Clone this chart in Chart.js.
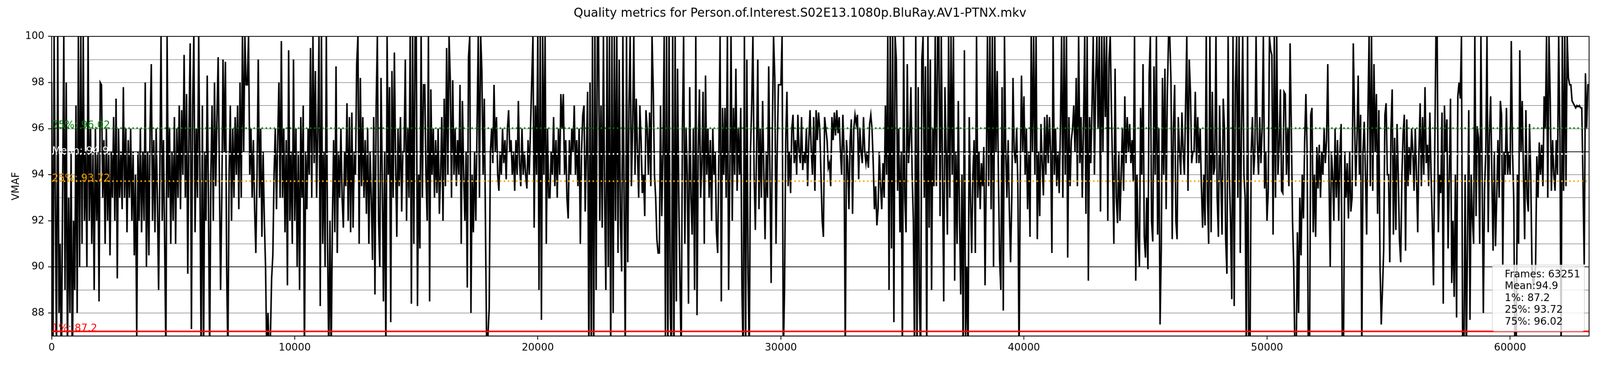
<!DOCTYPE html>
<html>
<head>
<meta charset="utf-8">
<title>Quality metrics</title>
<script src="https://cdn.jsdelivr.net/npm/chart.js@4.4.1/dist/chart.umd.min.js"></script>
<style>
  html, body { margin: 0; padding: 0; background: #fff; overflow: hidden; }
  canvas { display: block; }
</style>
</head>
<body>
<canvas id="vmafChart" width="4400" height="1000" style="width:100vw;height:22.7273vw"></canvas>
<script>
const chartTitle = "Quality metrics for Person.of.Interest.S02E13.1080p.BluRay.AV1-PTNX.mkv";
const yLabel = "VMAF";
const frameCount = 63251;
const frameStep = 50; // one value every 50 frames

// VMAF per frame, in blocks of 10000 frames
const seg0 = [
  98, 85, 100, 93, 86, 100, 88, 91, 85, 93,
  100, 89, 98, 86, 93, 88, 95, 85, 92, 89,
  97, 88, 100, 90, 100, 91, 100, 92, 95, 90,
  100, 92, 96, 91, 95, 89, 96, 92, 95, 88.5,
  98, 97.9, 93, 95.5, 91, 96, 92, 95, 90.5, 95,
  93, 96.5, 92, 97.3, 89.5, 96, 93, 95, 92.5, 97.8,
  93, 96, 91.5, 95.5, 93, 96, 92, 95, 90.5, 94,
  87, 95, 92, 96, 91.5, 95, 92, 98, 90, 95,
  90.5, 96, 98.8, 92, 95.5, 91.5, 96, 93, 89, 94,
  100, 92, 95.5, 91, 86, 100, 93, 96, 91, 95,
  92, 96.5, 91, 96, 93, 97, 92.5, 96.8, 94, 99.2,
  93, 97.5, 89.7, 96, 99.7, 87.3, 97, 100, 91.5, 96,
  93, 100, 94, 86, 97, 86, 95, 92, 98.3, 93,
  86, 94, 97, 92, 98, 93.5, 96.5, 99.1, 94, 89,
  93, 99, 95, 98.9, 90, 86, 94, 97, 92, 96,
  93, 96.5, 94, 97, 92.5, 98, 93, 100, 95, 100,
  97.9, 97.9, 100, 94, 96, 93, 95.5, 92.5, 90.6, 94,
  99, 93, 96, 91.3, 95, 92, 90, 86, 88, 86,
  87, 89.5, 90.5, 94, 96, 92.5, 95.5, 98, 93, 99.8,
  93, 96, 91.5, 95.5, 89.2, 99.4, 92, 95, 91, 99
];
const seg1 = [
  92, 96, 90, 95, 89, 96.5, 93, 97, 86, 95,
  92.5, 96, 94, 99.5, 93, 100, 94.5, 98.5, 93, 96,
  100, 88.3, 100, 91, 95, 90, 100, 91, 86, 92,
  86, 92, 95.5, 91.5, 98.7, 90.6, 95, 93, 96, 93,
  91.7, 95, 93.5, 97.1, 92, 96.5, 91.5, 96.7, 91.7, 95,
  94, 98.8, 100, 91, 98.2, 93.5, 96.5, 93, 95.5, 92.3,
  96, 91, 95, 93, 90.3, 96.5, 88.8, 97, 100, 92,
  90, 98.2, 94, 88.5, 95, 86, 100, 94, 97.8, 87.6,
  98.5, 93, 99.3, 94.5, 91.3, 96, 93.5, 96.5, 92.4, 95,
  95, 99, 92, 96, 93, 100, 88.4, 100, 91, 100,
  100, 88.3, 94, 90.8, 100, 93, 97.9, 97.9, 94, 92,
  100, 88.5, 97.7, 94, 96, 93, 95.5, 93.2, 96, 92.3,
  94, 96.5, 92, 97.3, 93.5, 99.5, 94, 100, 98.1, 93,
  98.1, 94, 96, 93.5, 95.5, 94, 97.9, 91, 97.2, 94,
  92, 95, 89.1, 99.1, 100, 88, 94, 91.5, 95, 92,
  96, 100, 93, 100, 98.5, 94, 97.3, 91.5, 86, 87,
  88.2, 95, 96, 94.5, 97.9, 95, 96.5, 94, 93.3, 95,
  94, 96, 94.5, 95.5, 93.8, 96, 96.8, 95, 95.5, 94,
  95, 93.3, 95.5, 94, 97.2, 94.5, 93.5, 96, 94, 95,
  94, 93.4, 95.5, 94, 96, 98, 100, 91.7, 97, 94
];
const seg2 = [
  100, 89, 100, 87.7, 100, 94, 100, 91, 96, 93,
  93, 95, 94, 96.5, 93.5, 95.5, 93, 96, 94, 97.5,
  96, 97.5, 94, 95.5, 93, 92.1, 95.5, 94, 96, 95,
  97, 94, 95.5, 93.5, 96, 91, 95, 96.6, 97, 92.4,
  95, 97.6, 86, 98, 86, 100, 86, 100, 89, 100,
  100, 92, 97, 91.7, 100, 93, 89, 100, 90, 100,
  86, 100, 88, 100, 92, 100, 90.6, 99, 92, 89.8,
  100, 93, 86, 100, 90.2, 97, 100, 93.5, 96, 100,
  94, 97.3, 95, 93, 97, 95.5, 93.2, 94, 92.2, 96.8,
  96, 94, 96.7, 93.5, 100, 97.7, 94, 93, 91.2, 90.6,
  90.6, 97, 92.2, 95, 100, 87, 100, 86, 100, 88,
  86, 100, 86, 100, 88.5, 98.6, 93, 89.3, 86, 96,
  100, 91, 96, 94, 88.4, 97.8, 93, 91.4, 96, 89,
  100, 87.9, 95, 97.7, 93, 94.5, 97.6, 91, 98.3, 94,
  96, 93, 95.5, 92, 96, 94, 95, 91.5, 90.6, 95,
  100, 88.5, 96.9, 94, 96.9, 93, 100, 89, 94, 100,
  92, 96.9, 94, 98.6, 93.3, 96, 94, 96.9, 89, 86,
  100, 86, 99, 89.7, 86, 95, 97, 100, 94, 91.6,
  95, 99, 92.5, 96, 93, 97.2, 94, 91.2, 95, 93,
  98.7, 94, 89.3, 96, 100, 98.2, 91, 95, 97.9, 97.9
];
const seg3 = [
  97.9, 100, 86, 89, 95.5, 97.6, 93.5, 95, 93.2, 96,
  96.6, 94.5, 95.5, 94, 96.6, 95, 94.5, 96.5, 94.2, 95,
  94.5, 96, 93.5, 95.5, 96.8, 95, 94, 96.5, 93.3, 96.8,
  95.5, 96.7, 96, 94, 92, 91.3, 96.5, 96, 95.5, 94.3,
  94.5, 93.5, 96.5, 95.5, 96.7, 95.7, 96.8, 95.8, 96.5, 95,
  94, 96.6, 95, 86, 95.5, 94.5, 92.5, 95.5, 96.4, 92.3,
  96, 96.6, 96.2, 96.6, 93.8, 96, 95, 94.5, 96.5, 95,
  94.5, 95, 94.3, 96.2, 96.6, 96, 94.5, 92.5, 93.5, 91.8,
  92.5, 95, 93.5, 92.5, 94.5, 93, 97, 94, 100, 89,
  100, 90.8, 100, 87.6, 100, 99, 93.3, 96, 91.5, 95,
  86, 100, 93, 91.5, 98.8, 94.5, 95.5, 97.8, 94, 92,
  86, 100, 86, 97.8, 88.6, 86, 99, 100, 93, 98.7,
  86, 100, 91.7, 99, 89, 96, 93.5, 100, 93.5, 100,
  100, 92.2, 100, 94, 88.5, 97.8, 95, 91.4, 100, 93,
  100, 94, 100, 89.4, 95, 91, 97.2, 92, 88.8, 94,
  86, 99.4, 87, 90, 86, 96.5, 93, 90.6, 94, 95.5,
  90.6, 100, 93, 95, 92.5, 94.5, 93.5, 95.2, 89.2, 94,
  100, 93.5, 100, 92.5, 100, 90, 100, 95, 98.5, 94,
  90.3, 89, 97.8, 88.1, 100, 95, 93, 95.5, 92.5, 90.2,
  93, 98.2, 95, 94.5, 96, 93.5, 86, 94, 98.3, 95
];
const seg4 = [
  97.4, 94, 96, 92.5, 95, 91.3, 100, 95, 100, 94,
  100, 91.2, 95, 92.2, 96.2, 94.5, 93.1, 96.5, 94, 96.6,
  94.5, 96.5, 95, 90.6, 100, 94, 96, 93.5, 95, 93.2,
  96, 100, 93, 100, 94, 100, 90.4, 96.5, 93.5, 95.5,
  96, 97, 95, 98.2, 93.5, 100, 94.5, 96.5, 93, 96,
  100, 92.3, 100, 89.4, 96.5, 94.5, 97, 100, 94, 98,
  100, 96, 100, 92.4, 100, 95, 100, 96.5, 100, 92,
  99, 100, 96.8, 94, 91, 98.6, 93, 91.9, 95, 92,
  94, 96, 93.3, 97.4, 94.5, 96.5, 95, 96.2, 94.5, 95.5,
  93.7, 100, 89.4, 94, 91.2, 90, 96.9, 94, 98.8, 91.3,
  90.4, 93, 89.9, 98.3, 100, 92, 91.1, 98.7, 94, 100,
  91.4, 96, 87.5, 90.7, 98.2, 94, 98.6, 92.5, 97.6, 100,
  100, 98, 91.2, 96, 97.9, 92, 91.2, 96.5, 95, 94,
  96.7, 95, 94, 97, 100, 93.3, 99, 97.6, 94.5, 95,
  95, 97.6, 94.5, 96.5, 94.5, 96, 93.5, 91.7, 94, 91.8,
  100, 93, 91, 100, 91.5, 97.6, 94, 94.3, 100, 93,
  91.3, 97, 94, 91.4, 97.3, 96, 91.2, 89.7, 100, 94,
  92, 88.6, 100, 88.3, 97.9, 100, 93, 100, 90.6, 96,
  100, 94, 93, 86, 100, 86, 86, 95, 96.5, 94,
  95, 100, 95.5, 94, 96.5, 94.5, 96, 100, 93.4, 95
];
const seg5 = [
  92, 93.3, 100, 99.4, 99.2, 91.4, 100, 93, 100, 94,
  95.2, 97.7, 93.3, 93.2, 97.6, 97.5, 94, 96, 93.5, 99.7,
  96, 92, 90, 86, 86, 91.5, 88, 93, 90.5, 94,
  92.1, 95.5, 97.5, 95, 86, 86, 96.6, 96.9, 91.5, 94,
  91.3, 95.2, 93.4, 95.3, 93, 95, 94, 96, 94.5, 95.5,
  98.8, 94, 90, 95, 94, 92, 96, 93, 95.5, 92,
  95, 96.2, 86, 87, 95, 93, 94.5, 92.1, 95, 92.4,
  93, 99.7, 96.5, 93.5, 95.5, 98.3, 94, 96.6, 86, 95,
  96.3, 94, 91.4, 96.5, 100, 93.5, 100, 93.3, 98.8, 95,
  97.5, 92.3, 96.8, 90, 87.5, 89, 90.7, 96.6, 97.1, 94,
  94, 90.2, 96, 97.7, 91.4, 95.6, 91.6, 96.2, 94, 91.2,
  90.2, 94, 95.8, 96.6, 90.7, 96.4, 93.5, 95.2, 94, 96,
  95, 93.3, 96, 94, 91.5, 95, 97.1, 93.5, 96.5, 94,
  97.8, 94.5, 95.3, 93.5, 96.7, 94, 91.9, 89.2, 95, 100,
  100, 91.5, 94, 93.2, 96.7, 88.4, 97, 95, 96.4, 90.8,
  94, 97.3, 89.3, 92, 88.7, 94, 87.8, 97.4, 98, 97.3,
  100, 86, 86, 94, 86, 91.3, 96.8, 87.7, 94, 92.1,
  91, 100, 92.2, 96.1, 95.6, 91, 100, 94, 88, 93.4,
  95, 100, 91.5, 95.7, 97.4, 94, 90.7, 95, 90.9, 93,
  95.5, 93, 97.2, 96.6, 90.1, 95, 94, 96.9, 94, 95
];
const seg6 = [
  94, 99.8, 95, 93, 86, 86, 94, 91, 99.4, 95,
  97.2, 94, 91.2, 96.8, 93, 92.4, 96.2, 94, 90, 89.2,
  89.5, 90, 94.8, 93, 95.4, 94, 95.3, 93.5, 97.4, 96,
  100, 93, 100, 97.4, 93.3, 95.5, 94, 93.3, 95.5, 94,
  100, 95.6, 86, 100, 93.3, 100, 93.5, 100, 98.2, 97.9,
  97.9, 97.2, 97.1, 97, 96.9, 97, 96.95, 97, 96.9, 96.9,
  93.7, 90.1, 98.4, 96, 97.9, 97.9
];

// summary statistics
const statNames = ["75%", "Mean", "25%", "1%"];
const statValues = [96.02, 94.9, 93.72, 87.2];
const statColors = ["green", "white", "orange", "red"];

const xTicks = [0, 10000, 20000, 30000, 40000, 50000, 60000];
const yTickLabels = [88, 90, 92, 94, 96, 98, 100];
const yDarkLines = [90, 95];

const FONT = '"DejaVu Sans", sans-serif';

var vmaf = seg0.concat(seg1, seg2, seg3, seg4, seg5, seg6);
var vmafPoints = vmaf.map((v, i) => ({ x: i * frameStep, y: v }));

var statSets = statValues.map((v, i) => ({
  label: statNames[i],
  data: [{ x: 0, y: v }, { x: frameCount, y: v }],
  borderColor: statColors[i],
  borderWidth: 4.2,
  borderDash: statNames[i] === "1%" ? [] : [4.2, 6.9],
  borderCapStyle: "butt",
  pointRadius: 0,
  order: 0,
}));

function statText(i) {
  return statNames[i] + ": " + statValues[i];
}

// legend lines shown in the box at the lower right
var boxLines = [
  "Frames: " + frameCount,
  "Mean:" + statValues[1],
  "1%: " + statValues[3],
  "25%: " + statValues[2],
  "75%: " + statValues[0],
];

const decorations = {
  id: "decorations",
  afterDatasetsDraw(chart) {
    const ctx = chart.ctx;
    const area = chart.chartArea;
    const y = chart.scales.y;
    ctx.save();
    ctx.font = "27.8px " + FONT;
    ctx.textAlign = "left";
    ctx.textBaseline = "alphabetic";
    statValues.forEach((v, i) => {
      ctx.fillStyle = statColors[i];
      ctx.fillText(statText(i), area.left + 1, y.getPixelForValue(v));
    });
    ctx.restore();
  },
  afterDraw(chart) {
    const ctx = chart.ctx;
    const area = chart.chartArea;
    ctx.save();
    // frame around the plot
    ctx.strokeStyle = "#000";
    ctx.lineWidth = 2.2;
    ctx.strokeRect(area.left, area.top, area.right - area.left, area.bottom - area.top);

    // title
    ctx.fillStyle = "#000";
    ctx.font = "33.3px " + FONT;
    ctx.textAlign = "center";
    ctx.textBaseline = "alphabetic";
    ctx.fillText(chartTitle, chart.width / 2, 45.5);

    // y axis title
    ctx.font = "27.8px " + FONT;
    ctx.translate(51.5, (area.top + area.bottom) / 2);
    ctx.rotate(-Math.PI / 2);
    ctx.fillText(yLabel, 0, 0);
    ctx.setTransform(1, 0, 0, 1, 0, 0);

    // stats box
    const bw = 253, bh = 182, r = 6;
    const bx = area.right - 13 - bw;
    const by = area.bottom - 13 - bh;
    ctx.beginPath();
    ctx.moveTo(bx + r, by);
    ctx.lineTo(bx + bw - r, by);
    ctx.arcTo(bx + bw, by, bx + bw, by + r, r);
    ctx.lineTo(bx + bw, by + bh - r);
    ctx.arcTo(bx + bw, by + bh, bx + bw - r, by + bh, r);
    ctx.lineTo(bx + r, by + bh);
    ctx.arcTo(bx, by + bh, bx, by + bh - r, r);
    ctx.lineTo(bx, by + r);
    ctx.arcTo(bx, by, bx + r, by, r);
    ctx.closePath();
    ctx.fillStyle = "rgba(255,255,255,0.8)";
    ctx.fill();
    ctx.strokeStyle = "#cccccc";
    ctx.lineWidth = 1.5;
    ctx.stroke();

    ctx.fillStyle = "#000";
    ctx.textAlign = "left";
    boxLines.forEach((t, i) => {
      ctx.fillText(t, bx + 34, by + 34 + i * 32.4);
    });
    ctx.restore();
  },
};

window.onload = () => {
  Chart.defaults.font.family = FONT;
  Chart.defaults.font.size = 27.8;
  Chart.defaults.color = "#000";

  new Chart(document.getElementById("vmafChart"), {
    type: "line",
    data: {
      datasets: statSets.concat([
        {
          label: "VMAF",
          data: vmafPoints,
          borderColor: "#000",
          borderWidth: 4.2,
          pointRadius: 0,
          tension: 0,
          order: 1,
        },
      ]),
    },
    options: {
      responsive: false,
      devicePixelRatio: 1,
      animation: false,
      events: [],
      layout: { padding: { top: 100, right: 30, left: 0, bottom: 0 } },
      plugins: {
        legend: { display: false },
        tooltip: { enabled: false },
        title: { display: false },
      },
      scales: {
        x: {
          type: "linear",
          min: 0,
          max: frameCount,
          afterFit: (s) => { s.height = 77; },
          afterBuildTicks: (s) => { s.ticks = xTicks.map((v) => ({ value: v })); },
          grid: {
            drawOnChartArea: false,
            drawTicks: true,
            tickLength: 10,
            tickColor: "#000",
            tickWidth: 2.2,
          },
          border: { color: "#000", width: 2.2 },
          ticks: {
            autoSkip: false,
            maxRotation: 0,
            padding: 6,
            callback: (v) => String(v),
          },
        },
        y: {
          type: "linear",
          min: 87,
          max: 100,
          afterFit: (s) => { s.width = 142; },
          grid: {
            color: (c) => (c.tick && yDarkLines.includes(c.tick.value) ? "#000" : "#808080"),
            lineWidth: (c) => (c.tick && yDarkLines.includes(c.tick.value) ? 2 : 1.4),
            tickColor: (c) => (c.tick && yTickLabels.includes(c.tick.value) ? "#000" : "rgba(0,0,0,0)"),
            tickLength: 10,
            tickWidth: 2.2,
          },
          border: { color: "#000", width: 2.2 },
          ticks: {
            stepSize: 1,
            autoSkip: false,
            padding: 10,
            callback: (v) => (yTickLabels.includes(v) ? String(v) : ""),
          },
        },
      },
    },
    plugins: [decorations],
  });
};
</script>
</body>
</html>
